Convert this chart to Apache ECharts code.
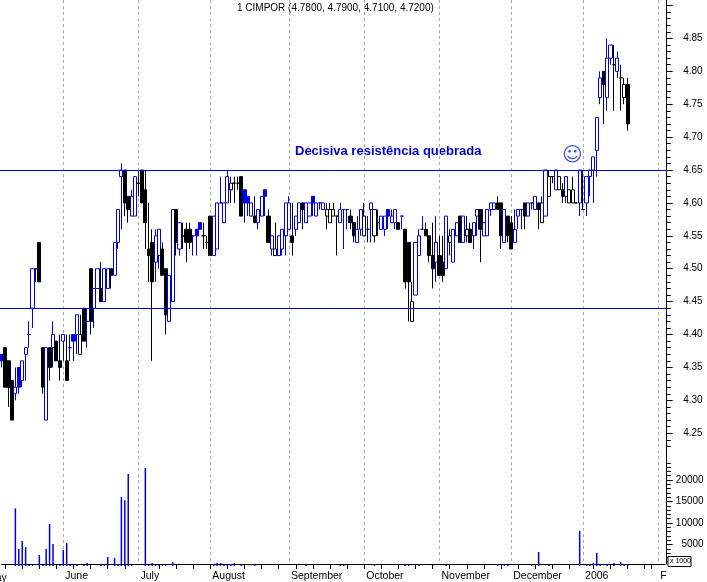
<!DOCTYPE html>
<html>
<head>
<meta charset="utf-8">
<script src="https://cdn.jsdelivr.net/npm/echarts@6/dist/echarts.min.js"></script>
<style>html,body{margin:0;padding:0;background:#fff}#c{width:707px;height:582px}</style>
</head>
<body>
<div id="c"></div>
<script>
const opens = [4.37,4.38,4.36,4.33,4.31,4.35,4.33,4.37,4.40,4.44,4.50,4.54,4.38,4.27,4.38,4.38,4.39,4.36,4.39,4.36,
4.38,4.40,4.40,4.37,4.44,4.42,4.50,4.44,4.47,4.47,4.45,4.47,4.50,4.49,4.54,4.64,4.65,4.61,4.58,4.58,
4.63,4.65,4.62,4.53,4.54,4.51,4.52,4.53,4.50,4.42,4.45,4.59,4.53,4.55,4.56,4.56,4.55,4.56,4.57,4.55,
4.54,4.58,4.52,4.53,4.60,4.57,4.60,4.62,4.63,4.63,4.64,4.62,4.61,4.58,4.58,4.57,4.58,4.62,4.58,4.53,
4.52,4.52,4.53,4.55,4.56,4.55,4.56,4.57,4.60,4.57,4.58,4.61,4.58,4.60,4.59,4.58,4.57,4.58,4.58,4.57,
4.59,4.59,4.58,4.57,4.54,4.56,4.55,4.56,4.59,4.55,4.57,4.56,4.56,4.59,4.57,4.57,4.57,4.58,4.56,4.54,
4.42,4.46,4.52,4.56,4.56,4.55,4.52,4.51,4.52,4.51,4.50,4.54,4.51,4.55,4.58,4.54,4.55,4.56,4.55,4.58,
4.59,4.55,4.55,4.59,4.59,4.60,4.60,4.54,4.58,4.57,4.54,4.58,4.59,4.60,4.58,4.60,4.59,4.60,4.57,4.58,
4.61,4.64,4.62,4.62,4.62,4.61,4.60,4.60,4.60,4.60,4.59,4.60,4.64,4.65,4.68,4.76,4.80,4.76,4.82,4.81,
4.80,4.79,4.76,4.78];
const closes = [4.36,4.32,4.32,4.27,4.32,4.32,4.36,4.38,4.40,4.50,4.50,4.48,4.32,4.38,4.35,4.40,4.36,4.35,4.40,4.33,
4.38,4.39,4.43,4.40,4.39,4.42,4.42,4.47,4.50,4.45,4.50,4.50,4.49,4.54,4.59,4.65,4.60,4.59,4.61,4.64,
4.63,4.60,4.57,4.52,4.48,4.55,4.56,4.49,4.43,4.49,4.59,4.54,4.57,4.55,4.54,4.54,4.55,4.55,4.56,4.55,
4.54,4.52,4.58,4.60,4.60,4.60,4.64,4.63,4.63,4.63,4.58,4.60,4.60,4.60,4.57,4.59,4.61,4.61,4.54,4.55,
4.53,4.55,4.56,4.60,4.60,4.54,4.58,4.60,4.59,4.60,4.60,4.60,4.60,4.60,4.60,4.59,4.59,4.59,4.58,4.59,
4.59,4.59,4.57,4.55,4.56,4.59,4.58,4.56,4.60,4.59,4.57,4.58,4.58,4.58,4.58,4.59,4.56,4.58,4.48,4.48,
4.45,4.54,4.55,4.56,4.55,4.52,4.50,4.54,4.49,4.49,4.58,4.55,4.56,4.57,4.54,4.58,4.56,4.54,4.57,4.59,
4.56,4.57,4.59,4.60,4.60,4.59,4.55,4.59,4.55,4.53,4.56,4.59,4.59,4.58,4.60,4.60,4.61,4.59,4.60,4.65,
4.64,4.64,4.65,4.64,4.61,4.64,4.62,4.62,4.60,4.65,4.59,4.64,4.65,4.67,4.73,4.79,4.78,4.82,4.84,4.81,
4.82,4.79,4.78,4.72];
const lows = [4.35,4.32,4.29,4.27,4.30,4.31,4.32,4.33,4.38,4.41,4.48,4.48,4.31,4.27,4.33,4.35,4.36,4.33,4.36,4.33,
4.36,4.36,4.37,4.37,4.39,4.38,4.40,4.41,4.47,4.45,4.45,4.47,4.47,4.49,4.53,4.56,4.58,4.57,4.58,4.58,
4.61,4.60,4.53,4.48,4.36,4.48,4.50,4.49,4.40,4.42,4.45,4.52,4.52,4.53,4.51,4.53,4.52,4.52,4.56,4.53,
4.53,4.52,4.52,4.53,4.60,4.57,4.60,4.60,4.60,4.62,4.58,4.57,4.58,4.58,4.57,4.56,4.58,4.58,4.54,4.52,
4.52,4.52,4.52,4.52,4.56,4.52,4.55,4.57,4.56,4.57,4.58,4.58,4.58,4.59,4.59,4.56,4.57,4.58,4.52,4.57,
4.53,4.56,4.56,4.54,4.54,4.55,4.55,4.54,4.54,4.54,4.55,4.56,4.55,4.56,4.57,4.56,4.56,4.56,4.47,4.42,
4.42,4.46,4.52,4.56,4.55,4.51,4.47,4.48,4.49,4.48,4.50,4.52,4.51,4.55,4.54,4.54,4.54,4.54,4.53,4.55,
4.51,4.55,4.55,4.58,4.59,4.59,4.53,4.54,4.54,4.53,4.54,4.56,4.56,4.56,4.58,4.59,4.59,4.56,4.57,4.58,
4.61,4.63,4.62,4.62,4.60,4.60,4.60,4.60,4.60,4.58,4.59,4.58,4.61,4.60,4.64,4.75,4.72,4.74,4.81,4.74,
4.79,4.74,4.75,4.71];
const highs = [4.37,4.38,4.36,4.33,4.35,4.35,4.36,4.38,4.42,4.50,4.50,4.54,4.38,4.38,4.38,4.42,4.39,4.40,4.40,4.40,
4.40,4.40,4.43,4.43,4.44,4.44,4.50,4.47,4.50,4.51,4.50,4.50,4.50,4.54,4.59,4.66,4.65,4.61,4.62,4.64,
4.65,4.65,4.65,4.60,4.56,4.56,4.56,4.54,4.50,4.49,4.59,4.59,4.57,4.57,4.57,4.57,4.55,4.56,4.57,4.57,
4.55,4.58,4.58,4.60,4.64,4.60,4.65,4.64,4.64,4.64,4.64,4.62,4.61,4.60,4.61,4.59,4.61,4.62,4.59,4.55,
4.57,4.55,4.56,4.60,4.61,4.60,4.58,4.60,4.60,4.60,4.60,4.61,4.60,4.60,4.60,4.60,4.60,4.60,4.58,4.60,
4.59,4.59,4.59,4.57,4.58,4.59,4.60,4.58,4.60,4.59,4.59,4.58,4.58,4.59,4.59,4.59,4.57,4.58,4.56,4.54,
4.48,4.54,4.56,4.58,4.57,4.55,4.57,4.58,4.55,4.55,4.58,4.56,4.56,4.57,4.58,4.58,4.58,4.57,4.57,4.59,
4.59,4.57,4.59,4.60,4.60,4.61,4.60,4.59,4.58,4.58,4.59,4.59,4.59,4.60,4.60,4.60,4.61,4.60,4.61,4.65,
4.65,4.64,4.65,4.64,4.63,4.64,4.62,4.64,4.60,4.65,4.65,4.64,4.65,4.67,4.73,4.80,4.80,4.85,4.84,4.84,
4.83,4.81,4.79,4.79];
const closedUpOnPrior = [1,0,0,0,1,1,1,1,1,1,1,0,0,1,0,1,0,0,1,0,
1,1,1,0,0,1,0,1,1,0,1,1,0,1,1,1,0,0,1,1,
0,0,0,0,0,1,1,0,0,1,1,0,1,0,0,0,1,1,1,0,
0,0,1,1,1,1,1,0,0,0,0,1,1,1,0,1,1,1,0,1,
0,1,1,1,1,0,1,1,0,1,1,1,1,1,1,0,0,0,0,1,
1,1,0,0,1,1,0,1,1,0,0,1,1,1,1,1,0,1,0,0,
0,1,1,1,0,0,0,1,0,0,1,0,1,1,0,1,0,0,1,1,
0,1,1,1,1,0,0,1,0,0,1,1,1,0,1,1,1,0,0,1,
0,0,1,0,0,1,0,0,0,1,0,1,1,1,1,1,0,1,1,0,
1,0,0,0];
const volumeDays = [4,5,6,7,8,9,11,12,13,14,15,17,18,19,20,21,22,24,25,29,30,31,33,34,35,36,37,38,42,43,44,45,46,47,48,50,
62,63,64,65,66,67,68,70,74,89,99,100,109,118,119,122,126,130,145,147,148,155,157,160,169,171,172,173,174,175,177,179,181,182,183];
const volumeValues = [13400,3950,5800,4400,230,230,2550,230,3950,9760,5100,230,3700,5350,230,230,230,230,700,230,230,2100,1860,230,16000,15300,21400,230,22800,230,700,230,230,230,230,930,
230,700,700,230,460,460,700,230,460,230,230,230,230,460,230,230,230,230,460,230,230,460,3250,230,8140,230,230,700,3000,460,460,700,930,230,230];
const trendLevels = [4.651,4.438];
const priceTickLabels = [4.25,4.30,4.35,4.40,4.45,4.50,4.55,4.60,4.65,4.70,4.75,4.80,4.85,4.90];
const volumeTickLabels = [5000,10000,15000,20000];
const monthStarts = [18,40,61,84,106,128,149,170,192];
const monthLabels = ['June','July','August','September','October','November','December','2006','F'];
const weekTicks = [1,6,11,16,21,26,31,36,46,51,56,61,66,71,76,81,86,91,96,101,106,111,116,121,126,131,136,141,146,151,156,161,166,173,178,183,188,190];
const titleText = '1 CIMPOR (4.7800, 4.7900, 4.7100, 4.7200)';
const noteText = 'Decisiva resistência quebrada';

const BLUE = '#0000e6', BLACK = '#000', LINE = '#0000cc', FONT = '"Liberation Sans", Arial, sans-serif';
const slots = 195;
const days = Array.from({length: slots}, (_, i) => i);
const priceMinor = []; for (let k = 423; k <= 490; k++) priceMinor.push(k / 100);
const volumeMinor = []; for (let k = 1000; k <= 24000; k += 1000) volumeMinor.push(k);
const volumeData = days.map(() => 0);
volumeDays.forEach((d, i) => { volumeData[d] = volumeValues[i]; });

const candleData = opens.map((o, i) => {
  const col = closedUpOnPrior[i] ? BLUE : BLACK;
  // a falling body (close below open) is filled, everything else is hollow
  const fill = closes[i] < o ? col : '#fff';
  return {
    value: [o, closes[i], lows[i], highs[i]],
    itemStyle: {color: fill, color0: fill, borderColor: col, borderColor0: col, borderColorDoji: col, borderWidth: 1}
  };
});

const chart = echarts.init(document.getElementById('c'), null, {renderer: 'canvas'});
const gridLeft = 1.7, gridWidth = 194 * 3.42, priceMin = 4.23, priceMax = 4.9084;
const hiddenX = (g) => ({type: 'category', gridIndex: g, data: days, boundaryGap: false, show: false});
const isMonth = (i) => monthStarts.includes(i);
chart.setOption({
  animation: false,
  backgroundColor: '#fff',
  textStyle: {fontFamily: FONT},
  grid: [
    {left: gridLeft, top: 0, width: gridWidth, height: 446.4},
    {left: gridLeft, top: 460, width: gridWidth, height: 106},
    {left: gridLeft, top: 0, width: gridWidth, height: 566},
    {left: 0, top: 0, width: 666.7, height: 446.4}
  ],
  xAxis: [
    hiddenX(0),
    hiddenX(1),
    {
      type: 'category', gridIndex: 2, data: days, boundaryGap: false, z: 1,
      axisLine: {show: true, lineStyle: {color: BLACK, width: 1}},
      axisTick: {show: true, length: 5, lineStyle: {color: BLACK}, interval: (i) => weekTicks.includes(i)},
      axisLabel: {
        show: true, interval: (i) => isMonth(i), align: 'left', margin: 7, padding: [0, 0, 0, 2],
        color: BLACK, fontSize: 10.5, fontFamily: FONT,
        formatter: (v) => monthLabels[monthStarts.indexOf(+v)] || ''
      },
      splitLine: {show: true, interval: (i) => isMonth(i), lineStyle: {color: '#aaa', type: [3, 3], width: 1}}
    },
    {
      type: 'category', gridIndex: 2, data: days, boundaryGap: false, z: 1,
      axisLine: {show: false},
      axisTick: {show: true, length: 16, lineStyle: {color: BLACK}, interval: (i) => isMonth(i)},
      axisLabel: {show: false},
      splitLine: {show: false}
    },
    {type: 'category', gridIndex: 3, data: ['start', 'end'], boundaryGap: false, show: false}
  ],
  yAxis: [
    {
      type: 'value', gridIndex: 0, position: 'right', offset: 1.5, min: priceMin, max: priceMax,
      axisLine: {show: false}, splitLine: {show: false},
      axisTick: {show: true, length: 6, lineStyle: {color: BLACK}, customValues: priceTickLabels},
      axisLabel: {
        show: true, customValues: priceTickLabels.filter(v => v < 4.9), align: 'right', margin: 36, padding: [3, 0, 0, 0],
        color: BLACK, fontSize: 10, fontFamily: FONT, formatter: (v) => (+v).toFixed(2)
      }
    },
    {
      type: 'value', gridIndex: 0, position: 'right', offset: 1.5, min: priceMin, max: priceMax,
      axisLine: {show: false}, splitLine: {show: false}, axisLabel: {show: false},
      axisTick: {show: true, length: 4, lineStyle: {color: BLACK}, customValues: priceMinor}
    },
    {
      type: 'value', gridIndex: 1, position: 'right', offset: 1.5, min: 0, max: 24650,
      axisLine: {show: false}, splitLine: {show: false},
      axisTick: {show: true, length: 6, lineStyle: {color: BLACK}, customValues: volumeTickLabels},
      axisLabel: {
        show: true, customValues: volumeTickLabels, align: 'right', margin: 37, padding: [2, 0, 0, 0],
        color: BLACK, fontSize: 10, fontFamily: FONT, formatter: (v) => String(v)
      }
    },
    {
      type: 'value', gridIndex: 1, position: 'right', offset: 1.5, min: 0, max: 24650,
      axisLine: {show: false}, splitLine: {show: false}, axisLabel: {show: false},
      axisTick: {show: true, length: 4, lineStyle: {color: BLACK}, customValues: volumeMinor}
    },
    {
      type: 'value', gridIndex: 2, position: 'right', offset: 1.5, min: 0, max: 1,
      axisLine: {show: true, lineStyle: {color: BLACK, width: 1}},
      axisTick: {show: false}, axisLabel: {show: false}, splitLine: {show: false}
    },
    {type: 'value', gridIndex: 3, min: priceMin, max: priceMax, show: false}
  ],
  series: [
    {type: 'candlestick', xAxisIndex: 0, yAxisIndex: 0, barWidth: 3.6, data: candleData, clip: false},
    {type: 'bar', xAxisIndex: 1, yAxisIndex: 2, data: volumeData, barWidth: 1.5, itemStyle: {color: BLUE}},
    {
      type: 'line', xAxisIndex: 4, yAxisIndex: 5, data: [], z: 3,
      markLine: {
        silent: true, symbol: 'none', animation: false, label: {show: false},
        lineStyle: {color: LINE, type: 'solid', width: 1},
        data: trendLevels.map(v => ({yAxis: v}))
      }
    }
  ],
  graphic: [
    {type: 'text', left: 237, top: 3, style: {text: titleText, fill: BLACK, font: '10px ' + FONT}},
    {type: 'text', left: 295, top: 145, style: {text: noteText, fill: LINE, font: 'bold 13px ' + FONT}},
    {type: 'text', left: 562, top: 146, style: {text: '\u263A', fill: '#3f55e8', font: '20px "DejaVu Sans"'}},
    {type: 'text', left: -13, top: 573, style: {text: 'May', fill: BLACK, font: '10.5px ' + FONT}},
    {type: 'rect', shape: {x: 668, y: 556.5, width: 23, height: 10}, style: {fill: '#fff', stroke: BLACK, lineWidth: 1}, z: 10},
    {type: 'text', left: 670, top: 557.5, z: 11, style: {text: 'x 1000', fill: BLACK, font: '7px ' + FONT}}
  ]
});
</script>
</body>
</html>
